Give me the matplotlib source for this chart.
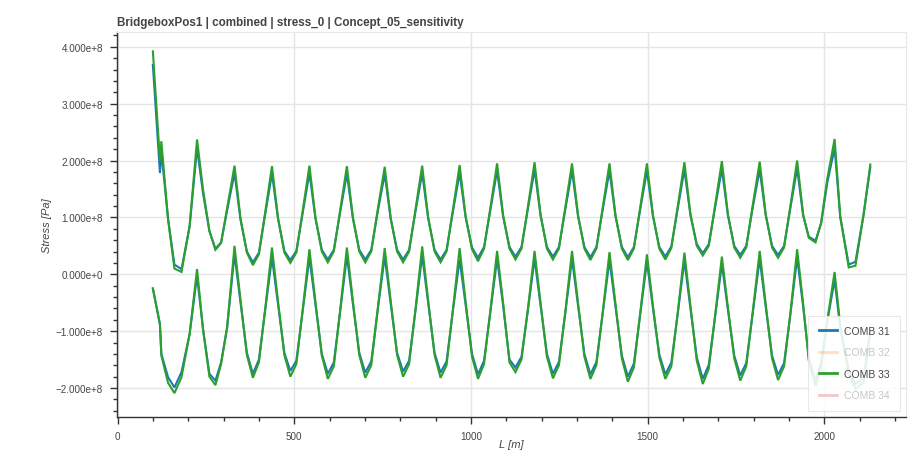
import matplotlib
matplotlib.use("Agg")
import matplotlib.pyplot as plt
from matplotlib.lines import Line2D
from matplotlib.ticker import FuncFormatter, MultipleLocator

plt.rcParams["font.family"] = ["Liberation Sans", "DejaVu Sans"]

TITLE = "BridgeboxPos1 | combined | stress_0 | Concept_05_sensitivity"

# station along the bridge [m], shared by all curves
L_M = [
    100, 120, 124, 143, 161, 181, 204,
    225, 242, 260, 277, 293, 310,
    331, 348, 366, 383, 400, 418,
    437, 454, 472, 489, 506, 524,
    543, 560, 578, 595, 612, 630,
    649, 666, 684, 701, 718, 736,
    756, 773, 791, 808, 825, 843,
    862, 879, 897, 914, 931, 949,
    968, 985, 1003, 1020, 1037, 1055,
    1074, 1091, 1109, 1126, 1143, 1161,
    1180, 1197, 1215, 1232, 1249, 1267,
    1286, 1303, 1321, 1338, 1355, 1373,
    1392, 1409, 1427, 1444, 1461, 1479,
    1498, 1515, 1533, 1550, 1567, 1585,
    1604, 1621, 1639, 1656, 1673, 1691,
    1710, 1727, 1745, 1762, 1779, 1797,
    1817, 1834, 1852, 1869, 1886, 1904,
    1923, 1940, 1956, 1975, 1991, 2008,
    2029, 2045, 2069, 2088, 2111, 2130,
]

# stresses in units of 1e8 Pa
COMB31_TOP = [
    3.68, 1.78, 2.15, 0.98, 0.17, 0.09, 0.84,
    2.22, 1.42, 0.76, 0.45, 0.56, 1.12,
    1.78, 0.96, 0.40, 0.21, 0.38, 1.06,
    1.77, 0.98, 0.41, 0.25, 0.41, 1.08,
    1.78, 0.98, 0.43, 0.26, 0.43, 1.09,
    1.77, 0.98, 0.43, 0.26, 0.43, 1.09,
    1.76, 0.97, 0.43, 0.26, 0.43, 1.10,
    1.78, 0.98, 0.43, 0.26, 0.43, 1.10,
    1.78, 1.00, 0.47, 0.29, 0.48, 1.13,
    1.82, 1.02, 0.48, 0.31, 0.48, 1.14,
    1.84, 1.03, 0.48, 0.31, 0.48, 1.14,
    1.82, 1.02, 0.48, 0.30, 0.48, 1.14,
    1.82, 1.02, 0.48, 0.30, 0.48, 1.14,
    1.82, 1.02, 0.48, 0.31, 0.49, 1.15,
    1.84, 1.04, 0.53, 0.37, 0.53, 1.18,
    1.85, 1.04, 0.50, 0.34, 0.50, 1.16,
    1.84, 1.04, 0.50, 0.34, 0.50, 1.17,
    1.86, 1.03, 0.66, 0.59, 0.90, 1.60,
    2.22, 1.00, 0.17, 0.22, 1.05, 1.88,
]
COMB33_TOP = [
    3.92, 2.00, 2.34, 0.96, 0.10, 0.04, 0.85,
    2.37, 1.49, 0.76, 0.43, 0.55, 1.16,
    1.91, 0.98, 0.38, 0.16, 0.35, 1.10,
    1.90, 1.00, 0.38, 0.20, 0.38, 1.12,
    1.91, 1.00, 0.40, 0.21, 0.40, 1.13,
    1.90, 1.00, 0.40, 0.21, 0.40, 1.13,
    1.89, 0.99, 0.40, 0.21, 0.40, 1.14,
    1.91, 1.00, 0.40, 0.21, 0.40, 1.14,
    1.92, 1.02, 0.44, 0.23, 0.45, 1.17,
    1.95, 1.04, 0.45, 0.26, 0.45, 1.18,
    1.97, 1.05, 0.45, 0.26, 0.45, 1.18,
    1.95, 1.04, 0.45, 0.25, 0.45, 1.18,
    1.95, 1.04, 0.45, 0.25, 0.45, 1.18,
    1.95, 1.04, 0.45, 0.26, 0.46, 1.19,
    1.97, 1.06, 0.50, 0.33, 0.50, 1.22,
    1.99, 1.06, 0.47, 0.29, 0.47, 1.20,
    1.98, 1.06, 0.47, 0.29, 0.47, 1.21,
    2.00, 1.05, 0.64, 0.56, 0.91, 1.67,
    2.38, 1.02, 0.12, 0.15, 1.05, 1.93,
]
COMB31_BOT = [
    -0.25, -0.88, -1.40, -1.81, -1.99, -1.72, -1.05,
    -0.03, -0.97, -1.75, -1.87, -1.55, -0.94,
    0.35, -0.50, -1.38, -1.75, -1.50, -0.62,
    0.29, -0.52, -1.38, -1.70, -1.52, -0.64,
    0.29, -0.53, -1.40, -1.75, -1.55, -0.65,
    0.32, -0.52, -1.38, -1.73, -1.53, -0.64,
    0.31, -0.52, -1.38, -1.71, -1.52, -0.64,
    0.33, -0.51, -1.38, -1.73, -1.53, -0.64,
    0.26, -0.54, -1.40, -1.76, -1.52, -0.66,
    0.27, -0.55, -1.50, -1.64, -1.45, -0.64,
    0.27, -0.55, -1.40, -1.75, -1.54, -0.68,
    0.27, -0.55, -1.40, -1.76, -1.54, -0.68,
    0.25, -0.57, -1.43, -1.80, -1.57, -0.70,
    0.22, -0.60, -1.41, -1.76, -1.55, -0.70,
    0.24, -0.60, -1.46, -1.84, -1.59, -0.74,
    0.18, -0.62, -1.43, -1.78, -1.56, -0.70,
    0.27, -0.57, -1.43, -1.77, -1.56, -0.70,
    0.29, -0.57, -1.47, -1.88, -1.56, -0.84,
    -0.10, -0.95, -1.70, -1.93, -1.82, -1.00,
]
COMB33_BOT = [
    -0.25, -0.88, -1.43, -1.91, -2.09, -1.81, -1.05,
    0.09, -0.97, -1.80, -1.95, -1.58, -0.94,
    0.50, -0.45, -1.42, -1.82, -1.55, -0.60,
    0.47, -0.47, -1.42, -1.80, -1.58, -0.62,
    0.44, -0.48, -1.43, -1.84, -1.62, -0.63,
    0.47, -0.47, -1.42, -1.82, -1.60, -0.62,
    0.46, -0.47, -1.42, -1.80, -1.58, -0.62,
    0.49, -0.46, -1.42, -1.82, -1.60, -0.62,
    0.46, -0.48, -1.45, -1.84, -1.58, -0.64,
    0.41, -0.50, -1.55, -1.72, -1.50, -0.62,
    0.41, -0.50, -1.45, -1.83, -1.60, -0.66,
    0.41, -0.50, -1.45, -1.84, -1.60, -0.66,
    0.39, -0.52, -1.48, -1.89, -1.64, -0.68,
    0.35, -0.55, -1.46, -1.84, -1.62, -0.68,
    0.38, -0.55, -1.52, -1.93, -1.66, -0.72,
    0.31, -0.58, -1.48, -1.87, -1.62, -0.68,
    0.41, -0.52, -1.48, -1.86, -1.62, -0.68,
    0.44, -0.52, -1.52, -1.97, -1.62, -0.82,
    0.04, -0.90, -1.75, -2.02, -1.90, -1.00,
]

SERIES = ["COMB 31", "COMB 32", "COMB 33", "COMB 34"]
COLORS = ["#1f77b4", "#ff7f0e", "#2ca02c", "#d62728"]
MUTED = [False, True, False, True]

E8 = 1e8
fig = plt.figure(figsize=(9.12, 4.52), dpi=100)
ax = fig.add_axes([117 / 912, 1 - 418 / 452, (906 - 117) / 912, (418 - 33) / 452])

for top, bot, col in [(COMB31_TOP, COMB31_BOT, COLORS[0]), (COMB33_TOP, COMB33_BOT, COLORS[2])]:
    ax.plot(L_M, [v * E8 for v in top], color=col, lw=1.5, solid_joinstyle="miter")
    ax.plot(L_M, [v * E8 for v in bot], color=col, lw=1.5, solid_joinstyle="miter")

ax.set_xlim(-1.5, 2231)
ax.set_ylim(-2.51e8, 4.26e8)

ax.xaxis.set_major_locator(MultipleLocator(500))
ax.xaxis.set_minor_locator(MultipleLocator(100))
ax.yaxis.set_major_locator(MultipleLocator(1e8))
ax.yaxis.set_minor_locator(MultipleLocator(0.2e8))


def sci(v, pos):
    exp = 0 if v == 0 else 8
    s = f"{v / 10 ** exp:.3f}e+{exp}"
    return s.replace("-", "\u2212")


ax.yaxis.set_major_formatter(FuncFormatter(sci))
ax.grid(True, which="major", color="#e5e5e5", lw=1)
ax.set_axisbelow(True)

for side in ["top", "right"]:
    ax.spines[side].set_color("#e8e8e8")
    ax.spines[side].set_linewidth(0.8)
for side in ["left", "bottom"]:
    ax.spines[side].set_color("#333333")
    ax.spines[side].set_linewidth(1)

ax.tick_params(which="major", length=5, width=1, color="#333333",
               labelsize=7.1, labelcolor="#444444", pad=5)
ax.tick_params(which="minor", length=3, width=1, color="#333333")

ax.set_ylabel("Stress [Pa]", fontstyle="italic", fontsize=8, color="#444444")
ax.yaxis.set_label_coords(-0.083, 0.5)
ax.set_xlabel("L [m]", fontstyle="italic", fontsize=8, color="#444444", va="top")
ax.xaxis.set_label_coords(0.5, -0.058)

fig.text(117 / 912, 1 - 23 / 452, TITLE, fontsize=8.4, fontweight="bold",
         color="#444444", va="center", ha="left")

handles = [Line2D([], [], color=c, lw=2, alpha=0.25 if m else 1.0)
           for c, m in zip(COLORS, MUTED)]
leg = ax.legend(handles, SERIES, loc="lower right", fontsize=7.5, frameon=True,
                fancybox=False, edgecolor="#e5e5e5", framealpha=0.88,
                handlelength=1.8, handletextpad=0.6, labelspacing=1.1,
                borderpad=1.0, borderaxespad=0.6)
leg.get_frame().set_linewidth(0.8)
for txt, m in zip(leg.get_texts(), MUTED):
    txt.set_color("#444444")
    if m:
        txt.set_alpha(0.3)

fig.savefig("out.png", dpi=100)
